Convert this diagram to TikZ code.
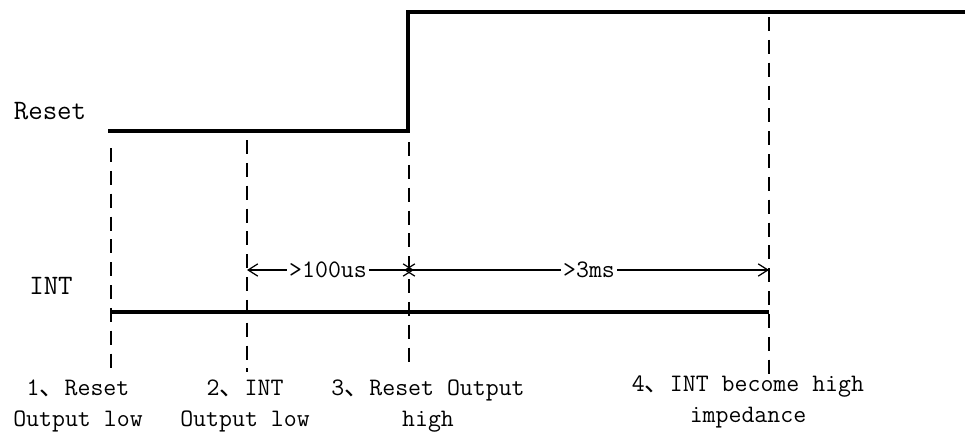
\documentclass[tikz,border=0pt]{standalone}
\usepackage{fontspec}
\newfontfamily\cjk{Noto Sans CJK SC}
\usetikzlibrary{arrows.meta}
\newcommand{\dun}{{\cjk 、}}
\begin{document}
\begin{tikzpicture}[
  x=0.02cm, y=-0.02cm,
  wave/.style={line width=2.1pt},
  guide/.style={line width=0.9pt, dash pattern=on 8pt off 5pt},
  span/.style={{Straight Barb[length=5.5pt,width=7pt]}-{Straight Barb[length=5.5pt,width=7pt]}, line width=0.7pt},
  sig/.style={font=\ttfamily\fontsize{16}{19}\selectfont},
  note/.style={align=center, font=\ttfamily\fontsize{14.3}{18}\selectfont},
  gap/.style={fill=white, inner sep=1pt, font=\ttfamily\fontsize{14.3}{16}\selectfont}
]
\useasboundingbox (0,0) rectangle (965,436);

\node[sig] (reset) at (50,111) {Reset};
\node[sig] (int) at (51,286) {INT};

\coordinate (r0) at (108,131);
\coordinate (r1) at (408,131);
\coordinate (r2) at (408,12);
\coordinate (r3) at (966,12);
\draw[wave] (r0) -- (r1) -- (r2) -- (r3);

\coordinate (i0) at (111,312);
\coordinate (i1) at (769,312);
\draw[wave, line width=1.8pt] (i0) -- (i1);

\coordinate (t1a) at (111,148);
\coordinate (t1b) at (111,372);
\coordinate (t2a) at (247,140);
\coordinate (t2b) at (247,372);
\coordinate (t3a) at (409,142);
\coordinate (t3b) at (409,367);
\coordinate (t4a) at (769,17);
\coordinate (t4b) at (769,377);
\draw[guide] (t1a) -- (t1b);
\draw[guide] (t2a) -- (t2b);
\draw[guide] (t3a) -- (t3b);
\draw[guide] (t4a) -- (t4b);

\coordinate (a2) at (247,270);
\coordinate (a3) at (409,270);
\coordinate (a4) at (769,270);
\draw[span, shorten >=-2.8pt] (a2) -- node[gap] (short) {>100us} (a3);
\draw[span, shorten <=-2.8pt] (a3) -- node[gap] (long) {>3ms} (a4);

\node[note] (ev1) at (78,406) {1\dun Reset\\Output low};
\node[note] (ev2) at (245,406) {2\dun INT\\Output low};
\node[note] (ev3) at (428,406) {3\dun Reset Output\\high};
\node[note] (ev4) at (748,402) {4\dun INT become high\\impedance};
\end{tikzpicture}
\end{document}
